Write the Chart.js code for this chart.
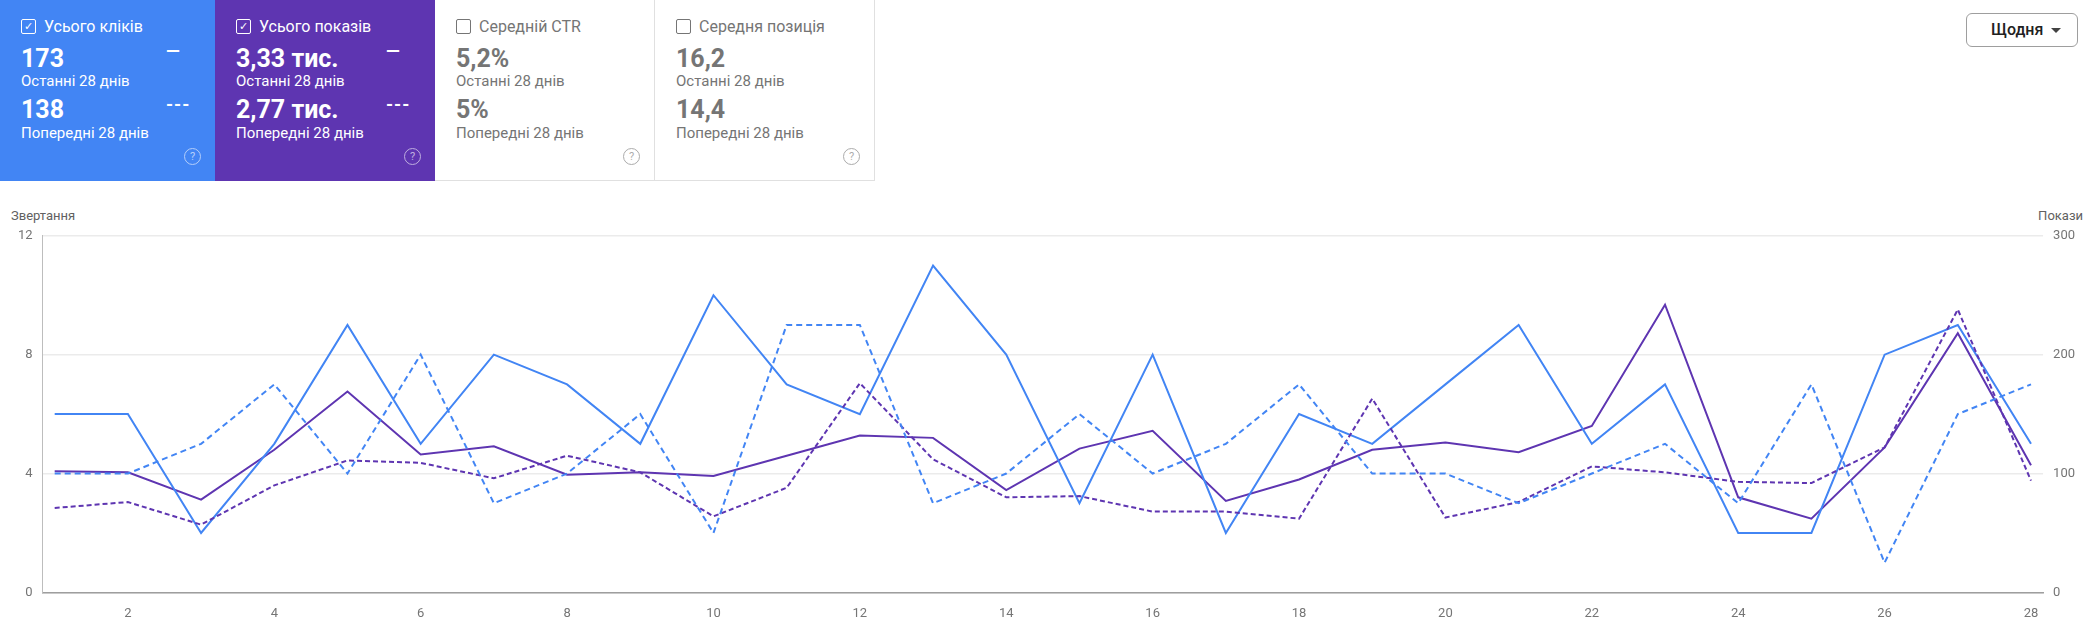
<!DOCTYPE html>
<html>
<head>
<meta charset="utf-8">
<script src="https://cdn.jsdelivr.net/npm/chart.js@4"></script>
<style>
  body { margin: 0; width: 2094px; height: 638px; background: #fff; font-family: Roboto, sans-serif; position: relative; overflow: hidden; }
  .card { position: absolute; top: 0; height: 181px; box-sizing: border-box; padding: 0 21px; }
  .card.blue { left: 0; width: 215px; background: #4285f4; color: #fff; }
  .card.purple { left: 215px; width: 220px; background: #5e35b1; color: #fff; }
  .card.white { background: #fff; color: #757575; border-right: 1px solid #e0e0e0; border-bottom: 1px solid #e0e0e0; }
  .ttl { position: absolute; top: 17px; font-size: 16px; display: flex; align-items: center; }
  .box { width: 13px; height: 13px; border: 1.5px solid currentColor; border-radius: 2px; margin-right: 8px; font-size: 11px; line-height: 13px; text-align: center; }
  .num { position: absolute; font-size: 25px; font-weight: bold; }
  .lbl { position: absolute; font-size: 15px; }
  .dash { position: absolute; left: 166px; font-size: 18px; font-weight: bold; letter-spacing: 1px; }
  .help { position: absolute; top: 148px; right: 14px; width: 15px; height: 15px; border: 1.5px solid currentColor; border-radius: 50%; font-size: 11px; line-height: 15px; text-align: center; opacity: .6; }
  .btn { position: absolute; left: 1966px; top: 13px; width: 112px; height: 34px; box-sizing: border-box; border: 1px solid #9e9e9e; border-radius: 6px; font-size: 16px; color: #212121; font-weight: 500; padding-left: 24px; line-height: 32px; }
  .btn:after { content: ""; position: absolute; right: 16px; top: 14px; border: 5px solid transparent; border-top-color: #424242; }
  .axt { position: absolute; top: 208px; font-size: 13px; color: #616161; }
  #chart { position: absolute; left: 0; top: 218px; }
</style>
</head>
<body>
<div class="card blue">
  <div class="ttl"><span class="box">✓</span>Усього кліків</div>
  <div class="num" style="top:44px">173</div><div class="dash" style="top:40px">—</div>
  <div class="lbl" style="top:72px">Останні 28 днів</div>
  <div class="num" style="top:95px">138</div><div class="dash" style="top:94px">---</div>
  <div class="lbl" style="top:124px">Попередні 28 днів</div>
  <div class="help">?</div>
</div>
<div class="card purple">
  <div class="ttl"><span class="box">✓</span>Усього показів</div>
  <div class="num" style="top:44px">3,33 тис.</div><div class="dash" style="top:40px;left:171px">—</div>
  <div class="lbl" style="top:72px">Останні 28 днів</div>
  <div class="num" style="top:95px">2,77 тис.</div><div class="dash" style="top:94px;left:171px">---</div>
  <div class="lbl" style="top:124px">Попередні 28 днів</div>
  <div class="help">?</div>
</div>
<div class="card white" style="left:435px;width:220px">
  <div class="ttl"><span class="box"></span>Середній CTR</div>
  <div class="num" style="top:44px">5,2%</div>
  <div class="lbl" style="top:72px">Останні 28 днів</div>
  <div class="num" style="top:95px">5%</div>
  <div class="lbl" style="top:124px">Попередні 28 днів</div>
  <div class="help">?</div>
</div>
<div class="card white" style="left:655px;width:220px">
  <div class="ttl"><span class="box"></span>Середня позиція</div>
  <div class="num" style="top:44px">16,2</div>
  <div class="lbl" style="top:72px">Останні 28 днів</div>
  <div class="num" style="top:95px">14,4</div>
  <div class="lbl" style="top:124px">Попередні 28 днів</div>
  <div class="help">?</div>
</div>
<div class="btn">Щодня</div>
<div class="axt" style="left:11px">Звертання</div>
<div class="axt" style="right:11px">Покази</div>
<canvas id="chart" width="2094" height="418"></canvas>
<script>
const days = [1, 2, 3, 4, 5, 6, 7, 8, 9, 10, 11, 12, 13, 14, 15, 16, 17, 18, 19, 20, 21, 22, 23, 24, 25, 26, 27, 28];
const clicksNow = [6, 6, 2, 5, 9, 5, 8, 7, 5, 10, 7, 6, 11, 8, 3, 8, 2, 6, 5, 7, 9, 5, 7, 2, 2, 8, 9, 5];
const clicksPrev = [4, 4, 5, 7, 4, 8, 3, 4, 6, 2, 9, 9, 3, 4, 6, 4, 5, 7, 4, 4, 3, 4, 5, 3, 7, 1, 6, 7];
const viewsNow = [102, 101, 78, 120, 169, 116, 123, 99, 101, 98, 115, 132, 130, 86, 121, 136, 77, 95, 120, 126, 118, 140, 242, 80, 62, 122, 218, 107];
const viewsPrev = [71, 76, 57, 90, 111, 109, 96, 115, 101, 64, 88, 176, 112, 80, 81, 68, 68, 62, 163, 63, 76, 106, 101, 93, 92, 122, 238, 94];
const xTicks = [2, 4, 6, 8, 10, 12, 14, 16, 18, 20, 22, 24, 26, 28];

const blue = '#4285f4';
const purple = '#5e35b1';
const pts = (arr) => arr.map((v, i) => ({ x: days[i], y: v }));

const line = (data, color, axis, dash) => ({
  data: pts(data),
  borderColor: color,
  borderWidth: 2,
  borderDash: dash,
  pointRadius: 0,
  tension: 0,
  yAxisID: axis,
  fill: false,
});

const tickFont = { family: 'Roboto', size: 13 };

new Chart(document.getElementById('chart'), {
  type: 'line',
  data: {
    datasets: [
      line(clicksPrev, blue, 'y', [6, 4]),
      line(viewsPrev, purple, 'y1', [5, 3]),
      line(clicksNow, blue, 'y', []),
      line(viewsNow, purple, 'y1', []),
    ],
  },
  options: {
    responsive: false,
    animation: false,
    layout: { padding: { top: 12, left: 8, right: 9, bottom: 0 } },
    plugins: { legend: { display: false }, tooltip: { enabled: false } },
    scales: {
      x: {
        type: 'linear',
        min: 0.835,
        max: 28.165,
        afterBuildTicks: (axis) => { axis.ticks = xTicks.map((v) => ({ value: v })); },
        grid: { display: false, drawTicks: false },
        border: { color: '#9e9e9e', width: 1.5 },
        ticks: { color: '#757575', font: tickFont, padding: 14, maxRotation: 0 },
      },
      y: {
        min: 0,
        max: 12,
        ticks: { stepSize: 4, color: '#757575', font: tickFont, padding: 10 },
        grid: { color: '#ebebeb', drawTicks: false, lineWidth: 1.5 },
        border: { color: '#bdbdbd', width: 1 },
      },
      y1: {
        position: 'right',
        min: 0,
        max: 300,
        ticks: { stepSize: 100, color: '#757575', font: tickFont, padding: 10 },
        grid: { display: false, drawTicks: false },
        border: { display: false },
      },
    },
  },
});
</script>
</body>
</html>
